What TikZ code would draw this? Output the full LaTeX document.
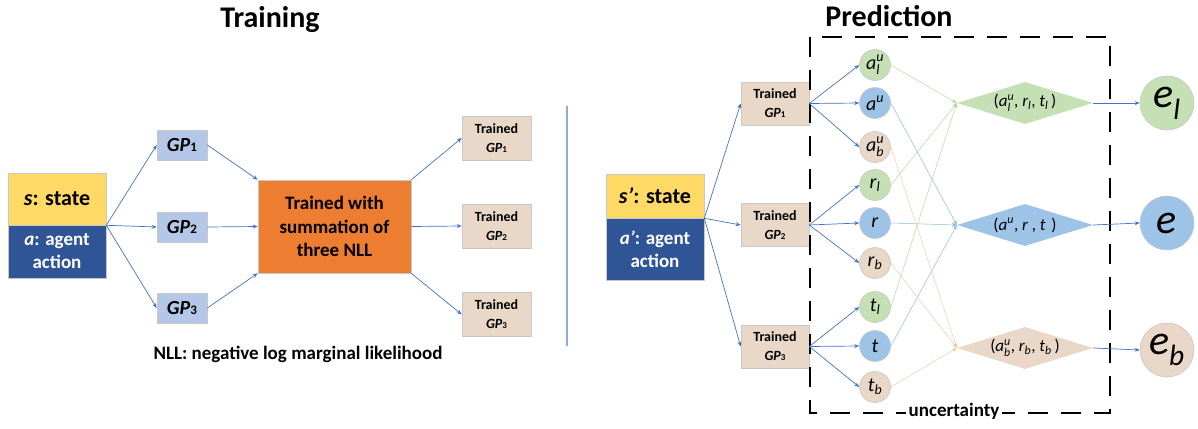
\documentclass[tikz,border=0pt]{standalone}
\usepackage{amsmath}
\usepackage{fontspec}
\setmainfont{Carlito}
\usetikzlibrary{shapes.geometric,arrows.meta}

\definecolor{stateyellow}{HTML}{FFD966}
\definecolor{actionblue}{HTML}{2F5597}
\definecolor{gpblue}{HTML}{B4C7E7}
\definecolor{nllorange}{HTML}{ED7D31}
\definecolor{trainbeige}{HTML}{E9D7C7}
\definecolor{leafgreen}{HTML}{C5E0B4}
\definecolor{leafblue}{HTML}{9DC3E6}
\definecolor{leafbeige}{HTML}{E9D7C7}
\definecolor{arrowblue}{HTML}{4472C4}
\definecolor{divblue}{HTML}{8FAADC}
\definecolor{edgegray}{HTML}{C8C8C8}
\definecolor{linegreen}{HTML}{B5D99C}
\definecolor{lineblue}{HTML}{8FB8E2}
\definecolor{linebeige}{HTML}{F4C9AA}

\newcommand{\gpname}[2]{\textbf{\textit{GP}\fontsize{#2}{#2}\selectfont#1}}

\begin{document}
\begin{tikzpicture}[x=1pt,y=-1pt,
    box/.style={draw=edgegray,line width=0.6pt,inner sep=0pt,align=center},
    flow/.style={arrowblue,line width=0.7pt,-{Stealth[length=5pt,width=4pt]}},
    thin flow/.style={line width=0.5pt,-{Stealth[length=5pt,width=4pt]}},
    leaf/.style={circle,draw=edgegray,line width=0.6pt,minimum size=31pt,inner sep=0pt,font=\fontsize{20}{20}\selectfont},
    combo/.style={diamond,aspect=3.24,minimum width=136pt,minimum height=42pt,inner sep=0pt,font=\fontsize{17}{17}\selectfont},
    outcome/.style={circle,draw=edgegray,line width=0.6pt,minimum size=54pt,inner sep=0pt,font=\fontsize{42}{42}\selectfont}]

    \useasboundingbox (0,0) rectangle (1198,428);

    % training
    \node[font=\fontsize{30}{30}\selectfont\bfseries] (traintitle) at (270,20) {Training};

    \node[box,fill=stateyellow,minimum width=98pt,minimum height=52pt,font=\fontsize{22}{22}\selectfont\bfseries] (state) at (57,199) {\textit{s}: state};
    \node[box,fill=actionblue,text=white,minimum width=98pt,minimum height=53pt,font=\fontsize{19}{23}\selectfont\bfseries] (action) at (57,251.5) {\textit{a}: agent\\action};

    \node[box,fill=gpblue,minimum width=50pt,minimum height=30pt,font=\fontsize{20}{20}\selectfont] (gp1) at (182,145) {\gpname{1}{13pt}};
    \node[box,fill=gpblue,minimum width=50pt,minimum height=30pt,font=\fontsize{20}{20}\selectfont] (gp2) at (182,227) {\gpname{2}{13pt}};
    \node[box,fill=gpblue,minimum width=50pt,minimum height=30pt,font=\fontsize{20}{20}\selectfont] (gp3) at (182,308) {\gpname{3}{13pt}};

    \node[box,fill=nllorange,minimum width=153pt,minimum height=93pt,font=\fontsize{19}{23.5}\selectfont\bfseries] (nll) at (334.5,226.5) {Trained with\\summation of\\three NLL};

    \node[box,fill=trainbeige,minimum width=69pt,minimum height=44pt,font=\fontsize{14}{19}\selectfont\bfseries] (trained1) at (496.5,138) {Trained\\\gpname{1}{9pt}};
    \node[box,fill=trainbeige,minimum width=69pt,minimum height=44pt,font=\fontsize{14}{19}\selectfont\bfseries] (trained2) at (496.5,226) {Trained\\\gpname{2}{9pt}};
    \node[box,fill=trainbeige,minimum width=69pt,minimum height=44pt,font=\fontsize{14}{19}\selectfont\bfseries] (trained3) at (496.5,314.5) {Trained\\\gpname{3}{9pt}};

    \node[font=\fontsize{19}{19}\selectfont\bfseries] (nllnote) at (298,354) {NLL: negative log marginal likelihood};

    \draw[flow] (state.south east) -- (gp1.west);
    \draw[flow] (state.south east) -- (gp2.west);
    \draw[flow] (state.south east) -- (gp3.west);
    \draw[flow] (gp1.east) -- (nll.north west);
    \draw[flow] (gp2.east) -- (nll.west);
    \draw[flow] (gp3.east) -- (nll.south west);
    \draw[flow] (nll.north east) -- (trained1.west);
    \draw[flow] (nll.east) -- (trained2.west);
    \draw[flow] (nll.south east) -- (trained3.west);

    \coordinate (divtop) at (567,106);
    \coordinate (divbot) at (567,346);
    \draw[divblue,line width=1.5pt] (divtop) -- (divbot);

    % prediction
    \node[font=\fontsize{30}{30}\selectfont\bfseries] (predtitle) at (889,16) {Prediction};

    \node[box,fill=stateyellow,minimum width=98pt,minimum height=44pt,font=\fontsize{22}{22}\selectfont\bfseries] (nextstate) at (655,196) {\textit{s'}: state};
    \node[box,fill=actionblue,text=white,minimum width=98pt,minimum height=62pt,font=\fontsize{19}{23}\selectfont\bfseries] (nextaction) at (655,249) {\textit{a'}: agent\\action};

    \node[box,fill=trainbeige,minimum width=68pt,minimum height=43pt,font=\fontsize{14}{19}\selectfont\bfseries] (tp1) at (775,103.5) {Trained\\\gpname{1}{9pt}};
    \node[box,fill=trainbeige,minimum width=68pt,minimum height=43pt,font=\fontsize{14}{19}\selectfont\bfseries] (tp2) at (775,225) {Trained\\\gpname{2}{9pt}};
    \node[box,fill=trainbeige,minimum width=68pt,minimum height=43pt,font=\fontsize{14}{19}\selectfont\bfseries] (tp3) at (775,346.5) {Trained\\\gpname{3}{9pt}};

    \draw[line width=1.6pt,dash pattern=on 20pt off 13pt] (810,37) rectangle (1110,413);
    \node[fill=white,inner sep=3pt,font=\fontsize{19}{19}\selectfont\bfseries] (uncert) at (954,411) {uncertainty};

    \node[leaf,fill=leafgreen] (al) at (875,65) {$\textit{a}^{\textit{u}}_{\textit{l}}$};
    \node[leaf,fill=leafblue] (au) at (875,103) {$\textit{a}^{\textit{u}}$};
    \node[leaf,fill=leafbeige] (ab) at (875,147) {$\textit{a}^{\textit{u}}_{\textit{b}}$};
    \node[leaf,fill=leafgreen] (rl) at (875,185) {$\textit{r}_{\textit{l}}$};
    \node[leaf,fill=leafblue] (r) at (875,223) {\textit{r}};
    \node[leaf,fill=leafbeige] (rb) at (875,263) {$\textit{r}_{\textit{b}}$};
    \node[leaf,fill=leafgreen] (tl) at (875,307) {$\textit{t}_{\textit{l}}$};
    \node[leaf,fill=leafblue] (t) at (875,346) {\textit{t}};
    \node[leaf,fill=leafbeige] (tb) at (875,387) {$\textit{t}_{\textit{b}}$};

    \node[combo,fill=leafgreen] (dl) at (1025,103) {($\textit{a}^{\textit{u}}_{\textit{l}}$, $\textit{r}_{\textit{l}}$, $\textit{t}_{\textit{l}}$\,)};
    \node[combo,fill=leafblue] (d) at (1025,225) {($\textit{a}^{\textit{u}}$, \textit{r} , \textit{t}\,\,)};
    \node[combo,fill=leafbeige] (db) at (1025,348) {($\textit{a}^{\textit{u}}_{\textit{b}}$, $\textit{r}_{\textit{b}}$, $\textit{t}_{\textit{b}}$\,)};

    \node[outcome,fill=leafgreen] (el) at (1167,103) {$\textit{e}_{\textit{l}}$};
    \node[outcome,fill=leafblue] (e) at (1167,223) {\textit{e}};
    \node[outcome,fill=leafbeige] (eb) at (1167,350) {$\textit{e}_{\textit{b}}$};

    \draw[flow] (nextstate.south east) -- (tp1.west);
    \draw[flow] (nextstate.south east) -- (tp2.west);
    \draw[flow] (nextstate.south east) -- (tp3.west);

    \draw[flow] (tp1.east) -- (al.west);
    \draw[flow] (tp1.east) -- (au.west);
    \draw[flow] (tp1.east) -- (ab.west);
    \draw[flow] (tp2.east) -- (rl.west);
    \draw[flow] (tp2.east) -- (r.west);
    \draw[flow] (tp2.east) -- (rb.west);
    \draw[flow] (tp3.east) -- (tl.west);
    \draw[flow] (tp3.east) -- (t.west);
    \draw[flow] (tp3.east) -- (tb.west);

    \draw[thin flow,linegreen] (al.east) -- (dl.west);
    \draw[thin flow,linegreen] (rl.east) -- (dl.west);
    \draw[thin flow,linegreen] (tl.east) -- (dl.west);
    \draw[thin flow,lineblue] (au.east) -- (d.west);
    \draw[thin flow,lineblue] (r.east) -- (d.west);
    \draw[thin flow,lineblue] (t.east) -- (d.west);
    \draw[thin flow,linebeige] (ab.east) -- (db.west);
    \draw[thin flow,linebeige] (rb.east) -- (db.west);
    \draw[thin flow,linebeige] (tb.east) -- (db.west);

    \draw[flow] (dl.east) -- (el.west);
    \draw[flow] (d.east) -- (e.west);
    \draw[flow] (db.east) -- (eb.west);
\end{tikzpicture}
\end{document}
